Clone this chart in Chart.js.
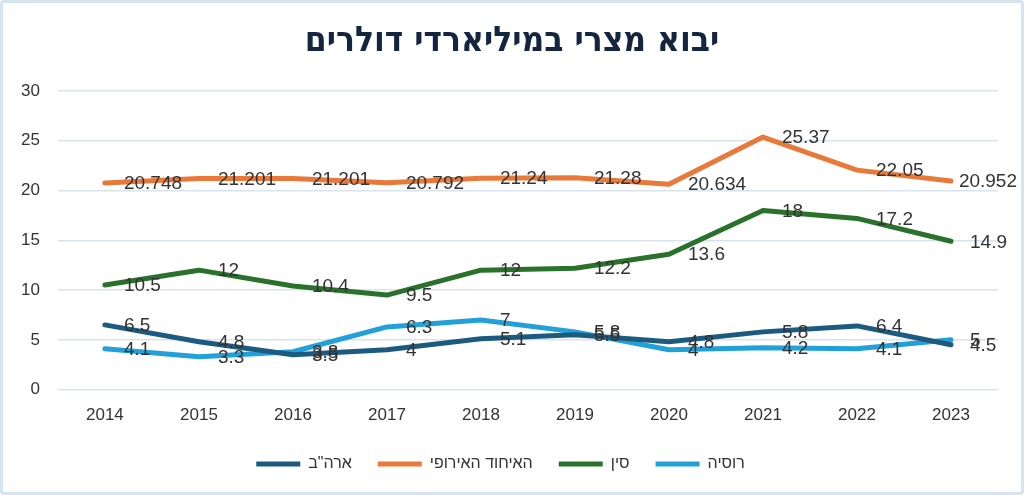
<!DOCTYPE html>
<html lang="he">
<head>
    <meta charset="UTF-8">
    <title>יבוא מצרי במיליארדי דולרים</title>
    <script src="https://cdn.jsdelivr.net/npm/chart.js"></script>
    <style>
        body, html {
            margin: 0;
            padding: 0;
            width: 1024px;
            height: 495px;
            overflow: hidden;
            background: #fff;
            font-family: "Liberation Sans", Arial, sans-serif;
        }
        #wrap {
            box-sizing: border-box;
            width: 1024px;
            height: 495px;
            border: 3px solid #d5e4f1;
            border-radius: 4px;
        }
        canvas {
            width: 100% !important;
            height: 100% !important;
        }
    </style>
</head>
<body>
<div id="wrap"><canvas id="importChart"></canvas></div>
<script>
    const years = ["2014", "2015", "2016", "2017", "2018", "2019", "2020", "2021", "2022", "2023"];
    const usa    = [6.5, 4.8, 3.5, 4, 5.1, 5.5, 4.8, 5.8, 6.4, 4.5];
    const eu     = [20.748, 21.201, 21.201, 20.792, 21.24, 21.28, 20.634, 25.37, 22.05, 20.952];
    const china  = [10.5, 12, 10.4, 9.5, 12, 12.2, 13.6, 18, 17.2, 14.9];
    const russia = [4.1, 3.3, 3.8, 6.3, 7, 5.8, 4, 4.2, 4.1, 5];
    const seriesNames = ['ארה"ב', "האיחוד האירופי", "סין", "רוסיה"];
    const yTicks = [0, 5, 10, 15, 20, 25, 30];

    const FONT = '"Liberation Sans", Arial, sans-serif';

    // value labels drawn to the right of each point, kept inside the canvas
    const valueLabels = {
        id: 'valueLabels',
        afterDatasetsDraw(chart) {
            const ctx = chart.ctx;
            ctx.save();
            ctx.font = '19px ' + FONT;
            ctx.fillStyle = '#333';
            ctx.textAlign = 'left';
            ctx.textBaseline = 'middle';
            chart.data.datasets.forEach((ds, i) => {
                chart.getDatasetMeta(i).data.forEach((pt, j) => {
                    const txt = String(ds.data[j]);
                    const w = ctx.measureText(txt).width;
                    const x = Math.min(pt.x + 19, chart.width - 4 - w);
                    ctx.fillText(txt, x, pt.y + 1);
                });
            });
            ctx.restore();
        }
    };

    // centre the title on the whole canvas, nudge the legend up a bit
    const tweakBoxes = {
        id: 'tweakBoxes',
        afterLayout(chart) {
            const t = chart.titleBlock;
            if (t) {
                const shift = chart.width / 2 - (t.left + t.right) / 2;
                t.left += shift;
                t.right += shift;
            }
            const l = chart.legend;
            if (l) {
                l.top -= 4;
                l.bottom -= 4;
                if (l.adjustHitBoxes) l.adjustHitBoxes();
            }
        }
    };

    const line = (label, data, color) => ({
        label, data,
        borderColor: color,
        backgroundColor: color,
        borderWidth: 5,
        borderCapStyle: 'round',
        borderJoinStyle: 'round',
        pointRadius: 0,
        tension: 0
    });

    new Chart(document.getElementById('importChart'), {
        type: 'line',
        data: {
            labels: years,
            datasets: [
                line(seriesNames[0], usa, '#1c5b7f'),
                line(seriesNames[1], eu, '#e9793a'),
                line(seriesNames[2], china, '#2a712b'),
                line(seriesNames[3], russia, '#21a1d8')
            ]
        },
        options: {
            responsive: true,
            maintainAspectRatio: false,
            animation: false,
            layout: { padding: { left: 0, right: 23, top: 0, bottom: 6 } },
            scales: {
                x: {
                    offset: true,
                    grid: { display: false },
                    border: { display: false },
                    ticks: { color: '#333', font: { size: 17, family: FONT }, padding: 8 }
                },
                y: {
                    min: 0, max: 30,
                    afterBuildTicks: (axis) => { axis.ticks = yTicks.map(v => ({ value: v })); },
                    grid: { color: '#d9e3ed', lineWidth: 1.5, drawTicks: false },
                    border: { display: false },
                    ticks: { color: '#333', font: { size: 17, family: FONT }, padding: 18 }
                }
            },
            plugins: {
                title: {
                    display: true,
                    text: 'יבוא מצרי במיליארדי דולרים',
                    color: '#14263f',
                    font: { size: 35, weight: 'bold', family: '"DejaVu Sans Condensed", "Liberation Sans", sans-serif' },
                    padding: { top: 18, bottom: 28 }
                },
                legend: {
                    position: 'bottom',
                    labels: {
                        usePointStyle: true,
                        pointStyle: 'line',
                        pointStyleWidth: 44,
                        boxHeight: 6,
                        color: '#333',
                        padding: 26,
                        font: { size: 16, family: FONT }
                    }
                },
                tooltip: { enabled: false }
            }
        },
        plugins: [valueLabels, tweakBoxes]
    });
</script>
</body>
</html>
